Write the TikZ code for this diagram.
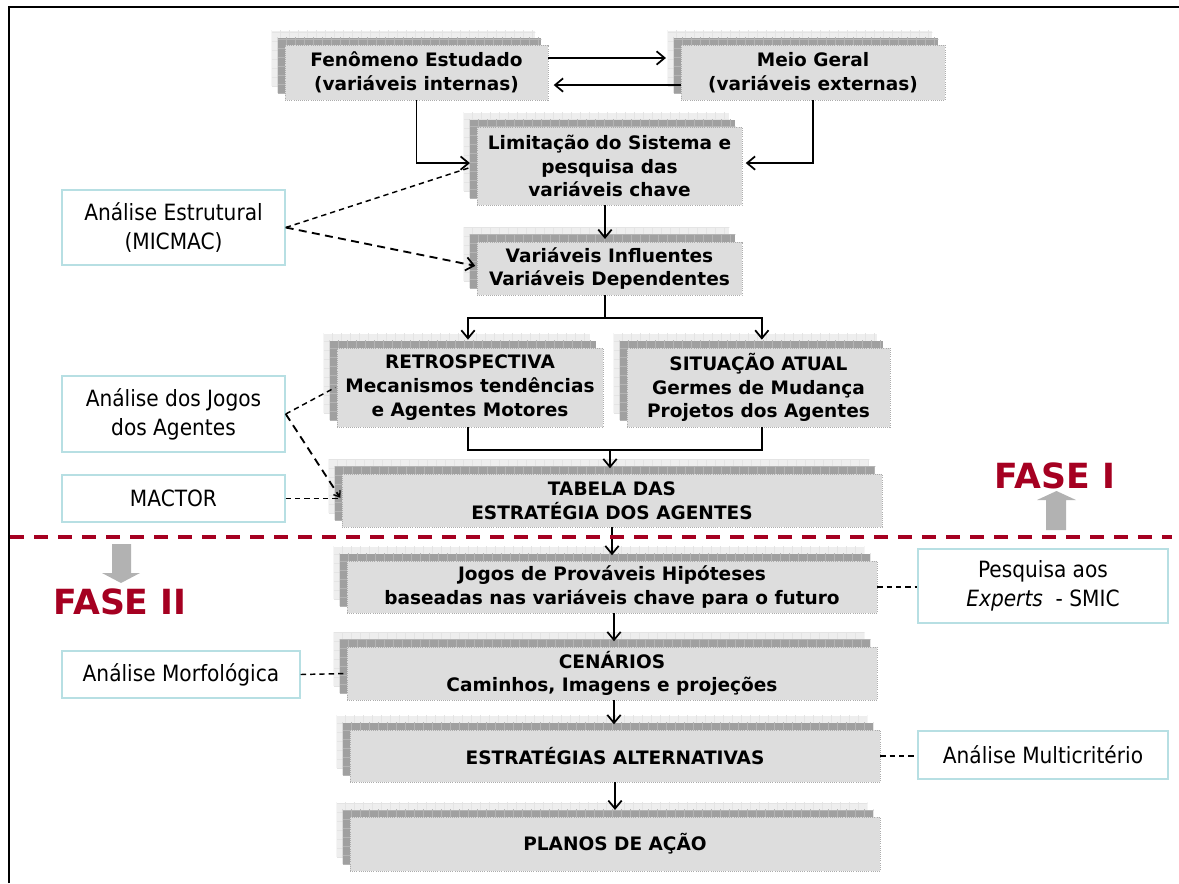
\documentclass[tikz,border=0pt]{standalone}
\usepackage{fontspec}
\setmainfont{DejaVu Sans}
\newfontfamily\sidefont{DejaVu Sans Condensed}
\usetikzlibrary{arrows.meta,backgrounds,calc}

\definecolor{faseRed}{HTML}{A50021}
\definecolor{sideCyan}{HTML}{B7DFE3}
\definecolor{frontGray}{HTML}{DDDDDD}
\definecolor{midGray}{HTML}{A0A0A0}
\definecolor{midLine}{HTML}{B4B4B4}
\definecolor{backGray}{HTML}{EEEEEE}
\definecolor{backLine}{HTML}{E4E4E4}
\definecolor{phaseArrow}{HTML}{B2B2B2}

\tikzset{
  mainbox/.style={fill=frontGray, draw=gray!65, densely dotted, line width=0.6pt,
    align=center, inner sep=0pt, font=\bfseries\fontsize{13.9}{17.8}\selectfont},
  sidebox/.style={draw=sideCyan, line width=1.1pt, fill=white, align=center,
    inner sep=0pt, font=\sidefont\fontsize{16.8}{21.8}\selectfont},
  conn/.style={line width=1.4pt, black},
  arr/.style={conn, -{Straight Barb[length=6pt,width=10pt,line width=1.3pt]}},
  dashlink/.style={line width=1.1pt, dash pattern=on 4pt off 3pt},
  dashlinkbold/.style={line width=1.4pt, dash pattern=on 6pt off 4pt},
  smallhead/.style={-{Straight Barb[length=4pt,width=6pt,line width=1pt]}},
  bighead/.style={-{Straight Barb[length=6pt,width=10pt,line width=1.3pt]}},
  fasetext/.style={text=faseRed, font=\bfseries\fontsize{26}{30}\selectfont, inner sep=0pt},
}

% the two stacked sheets lying behind a main box
\newcommand\stacklayers[1]{%
  \begin{pgfonlayer}{background}
    \begin{scope}
      \clip ([shift={(-13,-14)}]#1.south west) rectangle ([shift={(-13,-14)}]#1.north east);
      \fill[backGray] ([shift={(-13,-14)}]#1.south west) rectangle ([shift={(-13,-14)}]#1.north east);
      \foreach \k in {0,...,62} {
        \draw[backLine, line width=0.5pt] ([shift={(-13+\k*9,-14)}]#1.south west) -- ++(0,-120);
      }
      \foreach \k in {0,...,12} {
        \draw[backLine, line width=0.5pt] ([shift={(-13,-14-\k*9)}]#1.south west) -- ++(600,0);
      }
    \end{scope}
    \begin{scope}
      \clip ([shift={(-7,-7)}]#1.south west) rectangle ([shift={(-7,-7)}]#1.north east);
      \fill[midGray] ([shift={(-7,-7)}]#1.south west) rectangle ([shift={(-7,-7)}]#1.north east);
      \foreach \k in {0,...,62} {
        \draw[midLine, line width=0.45pt] ([shift={(-7+\k*9,-7)}]#1.south west) -- ++(0,-120);
      }
      \foreach \k in {0,...,12} {
        \draw[midLine, line width=0.45pt] ([shift={(-7,-7-\k*9)}]#1.south west) -- ++(600,0);
      }
    \end{scope}
  \end{pgfonlayer}}

% name, centre x, centre y, width, height, text
\newcommand\stackednode[6]{%
  \node[mainbox, minimum width=#4*0.75pt, minimum height=#5*0.75pt] (#1) at (#2,#3) {#6};
  \stacklayers{#1}}

\begin{document}
\begin{tikzpicture}[x=0.75pt, y=-0.75pt]
\useasboundingbox (0,0) rectangle (1179,883);

% frame
\draw[line width=1.6pt, black] (9,883) -- (9,7) -- (1179,7);

% main flow boxes
\stackednode{fen}{416.5}{72.5}{263}{55}{Fenômeno Estudado\\(variáveis internas)}
\stackednode{meio}{813}{72.5}{264}{55}{Meio Geral\\(variáveis externas)}
\stackednode{lim}{609.5}{166}{265}{78}{Limitação do Sistema e\\pesquisa das\\variáveis chave}
\stackednode{var}{609.5}{268.5}{265}{53}{Variáveis Influentes\\Variáveis Dependentes}
\stackednode{retro}{470}{387.5}{266}{79}{RETROSPECTIVA\\Mecanismos tendências\\e Agentes Motores}
\stackednode{sit}{758.5}{387.5}{263}{79}{SITUAÇÃO ATUAL\\Germes de Mudança\\Projetos dos Agentes}
\stackednode{tab}{612}{500.5}{540}{53}{TABELA DAS\\ESTRATÉGIA DOS AGENTES}
\stackednode{jog}{612}{587}{530}{52}{Jogos de Prováveis Hipóteses\\baseadas nas variáveis chave para o futuro}
\stackednode{cen}{612}{673.5}{530}{53}{CENÁRIOS\\Caminhos, Imagens e projeções}
\stackednode{est}{615}{756}{530}{52}{ESTRATÉGIAS ALTERNATIVAS}
\stackednode{pla}{615}{844}{530}{54}{PLANOS DE AÇÃO}

% method boxes
\node[sidebox, minimum width=223*0.75pt, minimum height=75*0.75pt] (micmac) at (173.5,227.5) {Análise Estrutural\\(MICMAC)};
\node[sidebox, minimum width=223*0.75pt, minimum height=76*0.75pt] (jogag) at (173.5,414) {Análise dos Jogos\\dos Agentes};
\node[sidebox, minimum width=223*0.75pt, minimum height=47*0.75pt] (mactor) at (173.5,498.5) {MACTOR};
\node[sidebox, minimum width=250*0.75pt, minimum height=74*0.75pt] (smic) at (1043,586) {Pesquisa aos\\\textit{Experts}\ \ - SMIC};
\node[sidebox, minimum width=238*0.75pt, minimum height=47*0.75pt] (morf) at (181,674.5) {Análise Morfológica};
\node[sidebox, minimum width=250*0.75pt, minimum height=48*0.75pt] (multi) at (1043,755) {Análise Multicritério};

% solid connectors
\draw[arr] ([yshift=10.9pt]fen.east) -- ([yshift=10.9pt,xshift=-11pt]meio.west);
\draw[arr] ([yshift=-9.4pt]meio.west) -- ([yshift=-9.4pt,xshift=4pt]fen.east);
\draw[arr] (fen.south) |- ([xshift=-5pt,yshift=2.2pt]lim.west);
\draw[arr] (meio.south) |- ([xshift=2.5pt,yshift=2.2pt]lim.east);
\draw[arr] ([xshift=-3.4pt]lim.south) -- ([xshift=-3.4pt,yshift=2pt]var.north);
\coordinate (split) at (605,318);
\draw[conn] (var.south -| split) -- (split);
\draw[arr] (split) -| ([xshift=-1.5pt,yshift=6pt]retro.north);
\draw[arr] (split) -| ([xshift=2.5pt,yshift=6pt]sit.north);
\coordinate (merge) at (610,450);
\draw[conn] ([xshift=-1.5pt]retro.south) |- (merge) -| ([xshift=2.5pt]sit.south);
\draw[arr] (merge) -- ([xshift=-1.5pt,yshift=4pt]tab.north);
\draw[arr] (tab.south) -- ([yshift=4pt]jog.north);
\draw[arr] ([xshift=1.5pt]jog.south) -- ([xshift=1.5pt,yshift=4pt]cen.north);
\draw[arr] ([xshift=1.5pt]cen.south) -- ([yshift=4pt,xshift=-0.75pt]est.north);
\draw[arr] (est.south) -- ([yshift=5pt]pla.north);

% dashed links to the methods
\draw[dashlink] (micmac.east) -- ([xshift=-6pt,yshift=-1.5pt]lim.west);
\draw[dashlinkbold, bighead] (micmac.east) -- ([xshift=-1pt,yshift=2pt]var.west);
\draw[dashlink] (jogag.east) -- ([xshift=-1pt]retro.west);
\draw[dashlinkbold, smallhead] (jogag.east) -- ([xshift=-1pt,yshift=2pt]tab.west);
\draw[dashlink] (mactor.east) -- ([xshift=-2pt,yshift=1.5pt]tab.west);
\draw[dashlink] (jog.east) -- (smic.west |- jog.east);
\draw[dashlink] (morf.east) -- (cen.west);
\draw[dashlink] (est.east) -- (multi.west |- est.east);

% phase separator
\draw[faseRed, line width=3pt, dash pattern=on 10.5pt off 7.5pt] (10,537) -- (1172,537);
\node[fasetext] (fase1) at (1055,476) {FASE I};
\node[fasetext] (fase2) at (120,602) {FASE II};
\fill[phaseArrow] (1046,530) -- (1046,500) -- (1037,500) -- (1056.5,491) -- (1076,500) -- (1066,500) -- (1066,530) -- cycle;
\fill[phaseArrow] (112,544) -- (112,573) -- (102,573) -- (121,583) -- (140,573) -- (131,573) -- (131,544) -- cycle;
\end{tikzpicture}
\end{document}
